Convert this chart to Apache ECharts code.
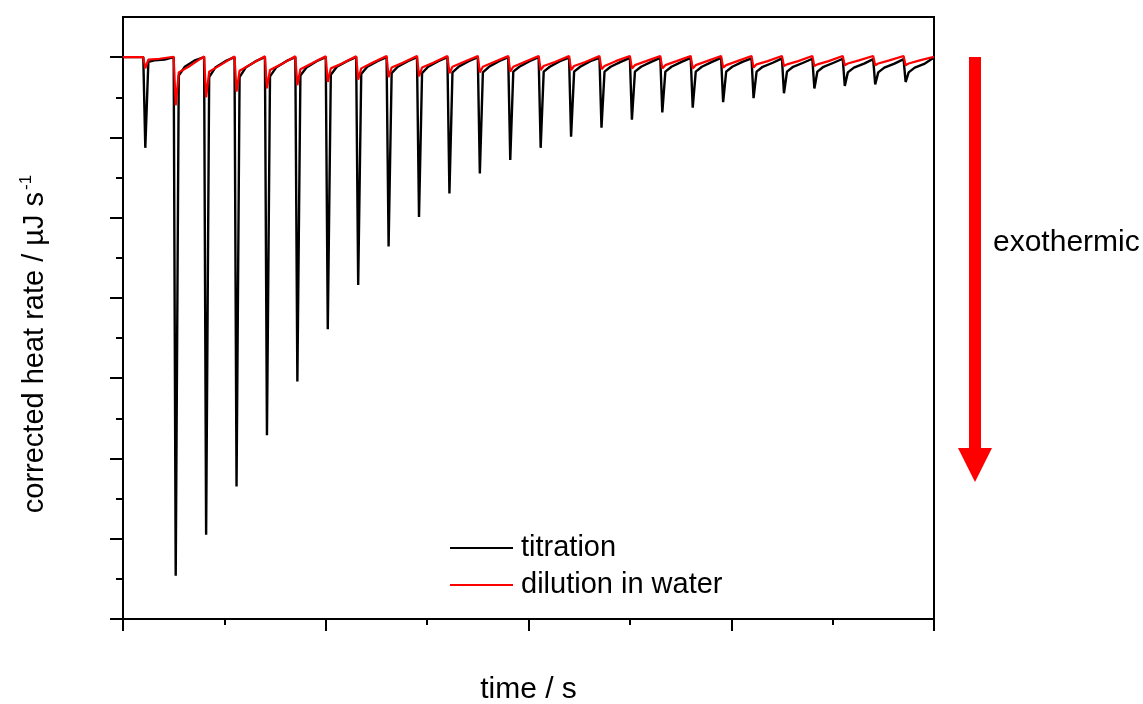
<!DOCTYPE html>
<html>
<head>
<meta charset="utf-8">
<script src="https://cdn.jsdelivr.net/npm/echarts@6/dist/echarts.min.js"></script>
<style>html,body{margin:0;padding:0;background:#fff}#c{width:1143px;height:704px}</style>
</head>
<body>
<div id="c"></div>
<script>
// injection times (s)
const injectTimes = [200,500,800,1100,1400,1700,2000,2300,2600,2900,3200,3500,3800,4100,4400,4700,5000,5300,5600,5900,6200,6500,6800,7100,7400,7700];
const endTime = 8000;
// titration trace key values per injection (µJ/s)
const titrationOffsets = [0, 20, 50, 110, 210];
const titrationPeak = [-11.3,-64.6,-59.5,-53.5,-47.1,-40.4,-33.9,-28.4,-23.6,-19.9,-17.0,-14.5,-12.8,-11.3,-9.9,-8.8,-7.8,-6.9,-6.3,-5.6,-5.1,-4.5,-3.9,-3.6,-3.4,-3.1];
const titrationShoulder = [-0.6,-2.3,-2.5,-2.5,-2.4,-2.3,-2.2,-2.1,-2.0,-2.0,-1.9,-1.9,-1.8,-1.8,-1.8,-1.8,-1.8,-1.8,-1.8,-1.8,-1.8,-1.8,-1.8,-1.9,-1.9,-1.9];
const titrationMid1 = [-0.4,-1.2,-1.3,-1.3,-1.3,-1.3,-1.2,-1.2,-1.2,-1.2,-1.2,-1.2,-1.2,-1.2,-1.2,-1.2,-1.2,-1.2,-1.2,-1.2,-1.2,-1.2,-1.2,-1.3,-1.3,-1.3];
const titrationMid2 = [-0.3,-0.4,-0.5,-0.5,-0.5,-0.5,-0.5,-0.5,-0.5,-0.5,-0.5,-0.5,-0.5,-0.5,-0.5,-0.6,-0.6,-0.6,-0.6,-0.6,-0.7,-0.7,-0.7,-0.8,-0.8,-0.8];
const titrationPre = [0,0,0,0,0,0,0,0,0,0,0,0,0,0,-0.05,-0.1,-0.1,-0.1,-0.1,-0.1,-0.15,-0.15,-0.2,-0.2,-0.25,-0.25];
const titrationEnd = -0.05;
// dilution trace key values per injection (µJ/s)
const dilutionOffsets = [0, 20, 50, 160];
const dilutionDip = [-1.4,-6.0,-5.0,-4.3,-3.9,-3.5,-3.1,-2.8,-2.5,-2.4,-2.0,-1.9,-1.8,-1.6,-1.6,-1.5,-1.4,-1.4,-1.4,-1.3,-1.3,-1.1,-1.1,-1.0,-1.0,-1.0];
const dilutionShoulder = [-0.3,-1.9,-1.8,-1.7,-1.6,-1.5,-1.4,-1.4,-1.3,-1.3,-1.2,-1.2,-1.2,-1.1,-1.1,-1.1,-1.0,-1.0,-1.0,-1.0,-0.9,-0.9,-0.9,-0.8,-0.8,-0.8];
const dilutionMid = [-0.2,-1.1,-1.0,-0.9,-0.9,-0.8,-0.8,-0.7,-0.7,-0.7,-0.6,-0.6,-0.6,-0.6,-0.6,-0.5,-0.5,-0.5,-0.5,-0.5,-0.5,-0.5,-0.5,-0.4,-0.4,-0.4];
const dilutionPre = [0,0.05,0.1,0.1,0.1,0.1,0.1,0.1,0.15,0.15,0.15,0.15,0.15,0.15,0.15,0.15,0.15,0.15,0.15,0.15,0.15,0.15,0.15,0.15,0.15,0.15];
const dilutionEnd = 0.05;
// axes ticks
const yMajorTicks = [-70,-60,-50,-40,-30,-20,-10,0];
const yMinorTicks = [-65,-55,-45,-35,-25,-15,-5];

const titration = [[0, 0]];
injectTimes.forEach((t, i) => {
  const vals = [titrationPre[i], titrationPeak[i], titrationShoulder[i], titrationMid1[i], titrationMid2[i]];
  titrationOffsets.forEach((o, k) => titration.push([t + o, vals[k]]));
});
titration.push([endTime, titrationEnd]);

const dilution = [[0, 0]];
injectTimes.forEach((t, i) => {
  const vals = [dilutionPre[i], dilutionDip[i], dilutionShoulder[i], dilutionMid[i]];
  dilutionOffsets.forEach((o, k) => dilution.push([t + o, vals[k]]));
});
dilution.push([endTime, dilutionEnd]);

const FONT = 'Liberation Sans, Arial, sans-serif';
const chart = echarts.init(document.getElementById('c'), null, {renderer: 'canvas'});
chart.setOption({
  animation: false,
  backgroundColor: '#fff',
  grid: {left: 123, right: 209, top: 17, bottom: 85, show: true, borderColor: '#000', borderWidth: 2, outerBoundsMode: 'none', containLabel: false},
  xAxis: {
    type: 'value', min: 0, max: endTime, interval: 2000,
    name: 'time / s', nameLocation: 'middle', nameGap: 56,
    nameTextStyle: {fontFamily: FONT, fontSize: 30, color: '#000'},
    axisLine: {show: true, onZero: false, lineStyle: {color: '#000', width: 2}},
    axisTick: {show: true, inside: false, length: 12, lineStyle: {color: '#000', width: 2}},
    minorTick: {show: true, splitNumber: 2, length: 6, lineStyle: {color: '#000', width: 2}},
    axisLabel: {show: false},
    splitLine: {show: false}, minorSplitLine: {show: false}
  },
  yAxis: [{
    type: 'value', min: -70, max: 5,
    name: '{a|corrected heat rate / µJ s}{b|-1}', nameLocation: 'middle', nameGap: 72, nameRotate: 90,
    nameTextStyle: {fontFamily: FONT, fontSize: 29, color: '#000', padding: [0, 52, 0, 0],
      rich: {a: {fontFamily: FONT, fontSize: 29, color: '#000'}, b: {fontFamily: FONT, fontSize: 17, color: '#000', padding: [0, 0, 16, 2]}}},
    axisLine: {show: true, onZero: false, lineStyle: {color: '#000', width: 2}},
    axisTick: {show: true, length: 13, customValues: yMajorTicks, lineStyle: {color: '#000', width: 2}},
    axisLabel: {show: false},
    splitLine: {show: false}
  }, {
    type: 'value', min: -70, max: 5, position: 'left',
    axisLine: {show: false, onZero: false},
    axisTick: {show: true, length: 7, customValues: yMinorTicks, lineStyle: {color: '#000', width: 2}},
    axisLabel: {show: false},
    splitLine: {show: false}
  }],
  legend: {
    orient: 'vertical', left: 450, top: 530, padding: 0, itemWidth: 63, itemHeight: 2, itemGap: 1,
    icon: 'rect',
    textStyle: {fontFamily: FONT, fontSize: 29, lineHeight: 36, color: '#000', padding: [0, 0, 0, 3]},
    data: ['titration', 'dilution in water']
  },
  series: [
    {name: 'titration', type: 'line', data: titration, symbol: 'none', lineStyle: {color: '#000', width: 2.4}, itemStyle: {color: '#000'}, z: 2},
    {name: 'dilution in water', type: 'line', data: dilution, symbol: 'none', lineStyle: {color: '#ff0000', width: 2.2}, itemStyle: {color: '#ff0000'}, z: 3}
  ],
  graphic: [
    {type: 'rect', shape: {x: 969, y: 57, width: 12, height: 393}, style: {fill: '#ff0000'}},
    {type: 'polygon', shape: {points: [[958, 448], [992, 448], [975, 482]]}, style: {fill: '#ff0000'}},
    {type: 'text', left: 993, top: 228, style: {text: 'exothermic', font: '30px ' + FONT, fill: '#000'}}
  ]
});
</script>
</body>
</html>
